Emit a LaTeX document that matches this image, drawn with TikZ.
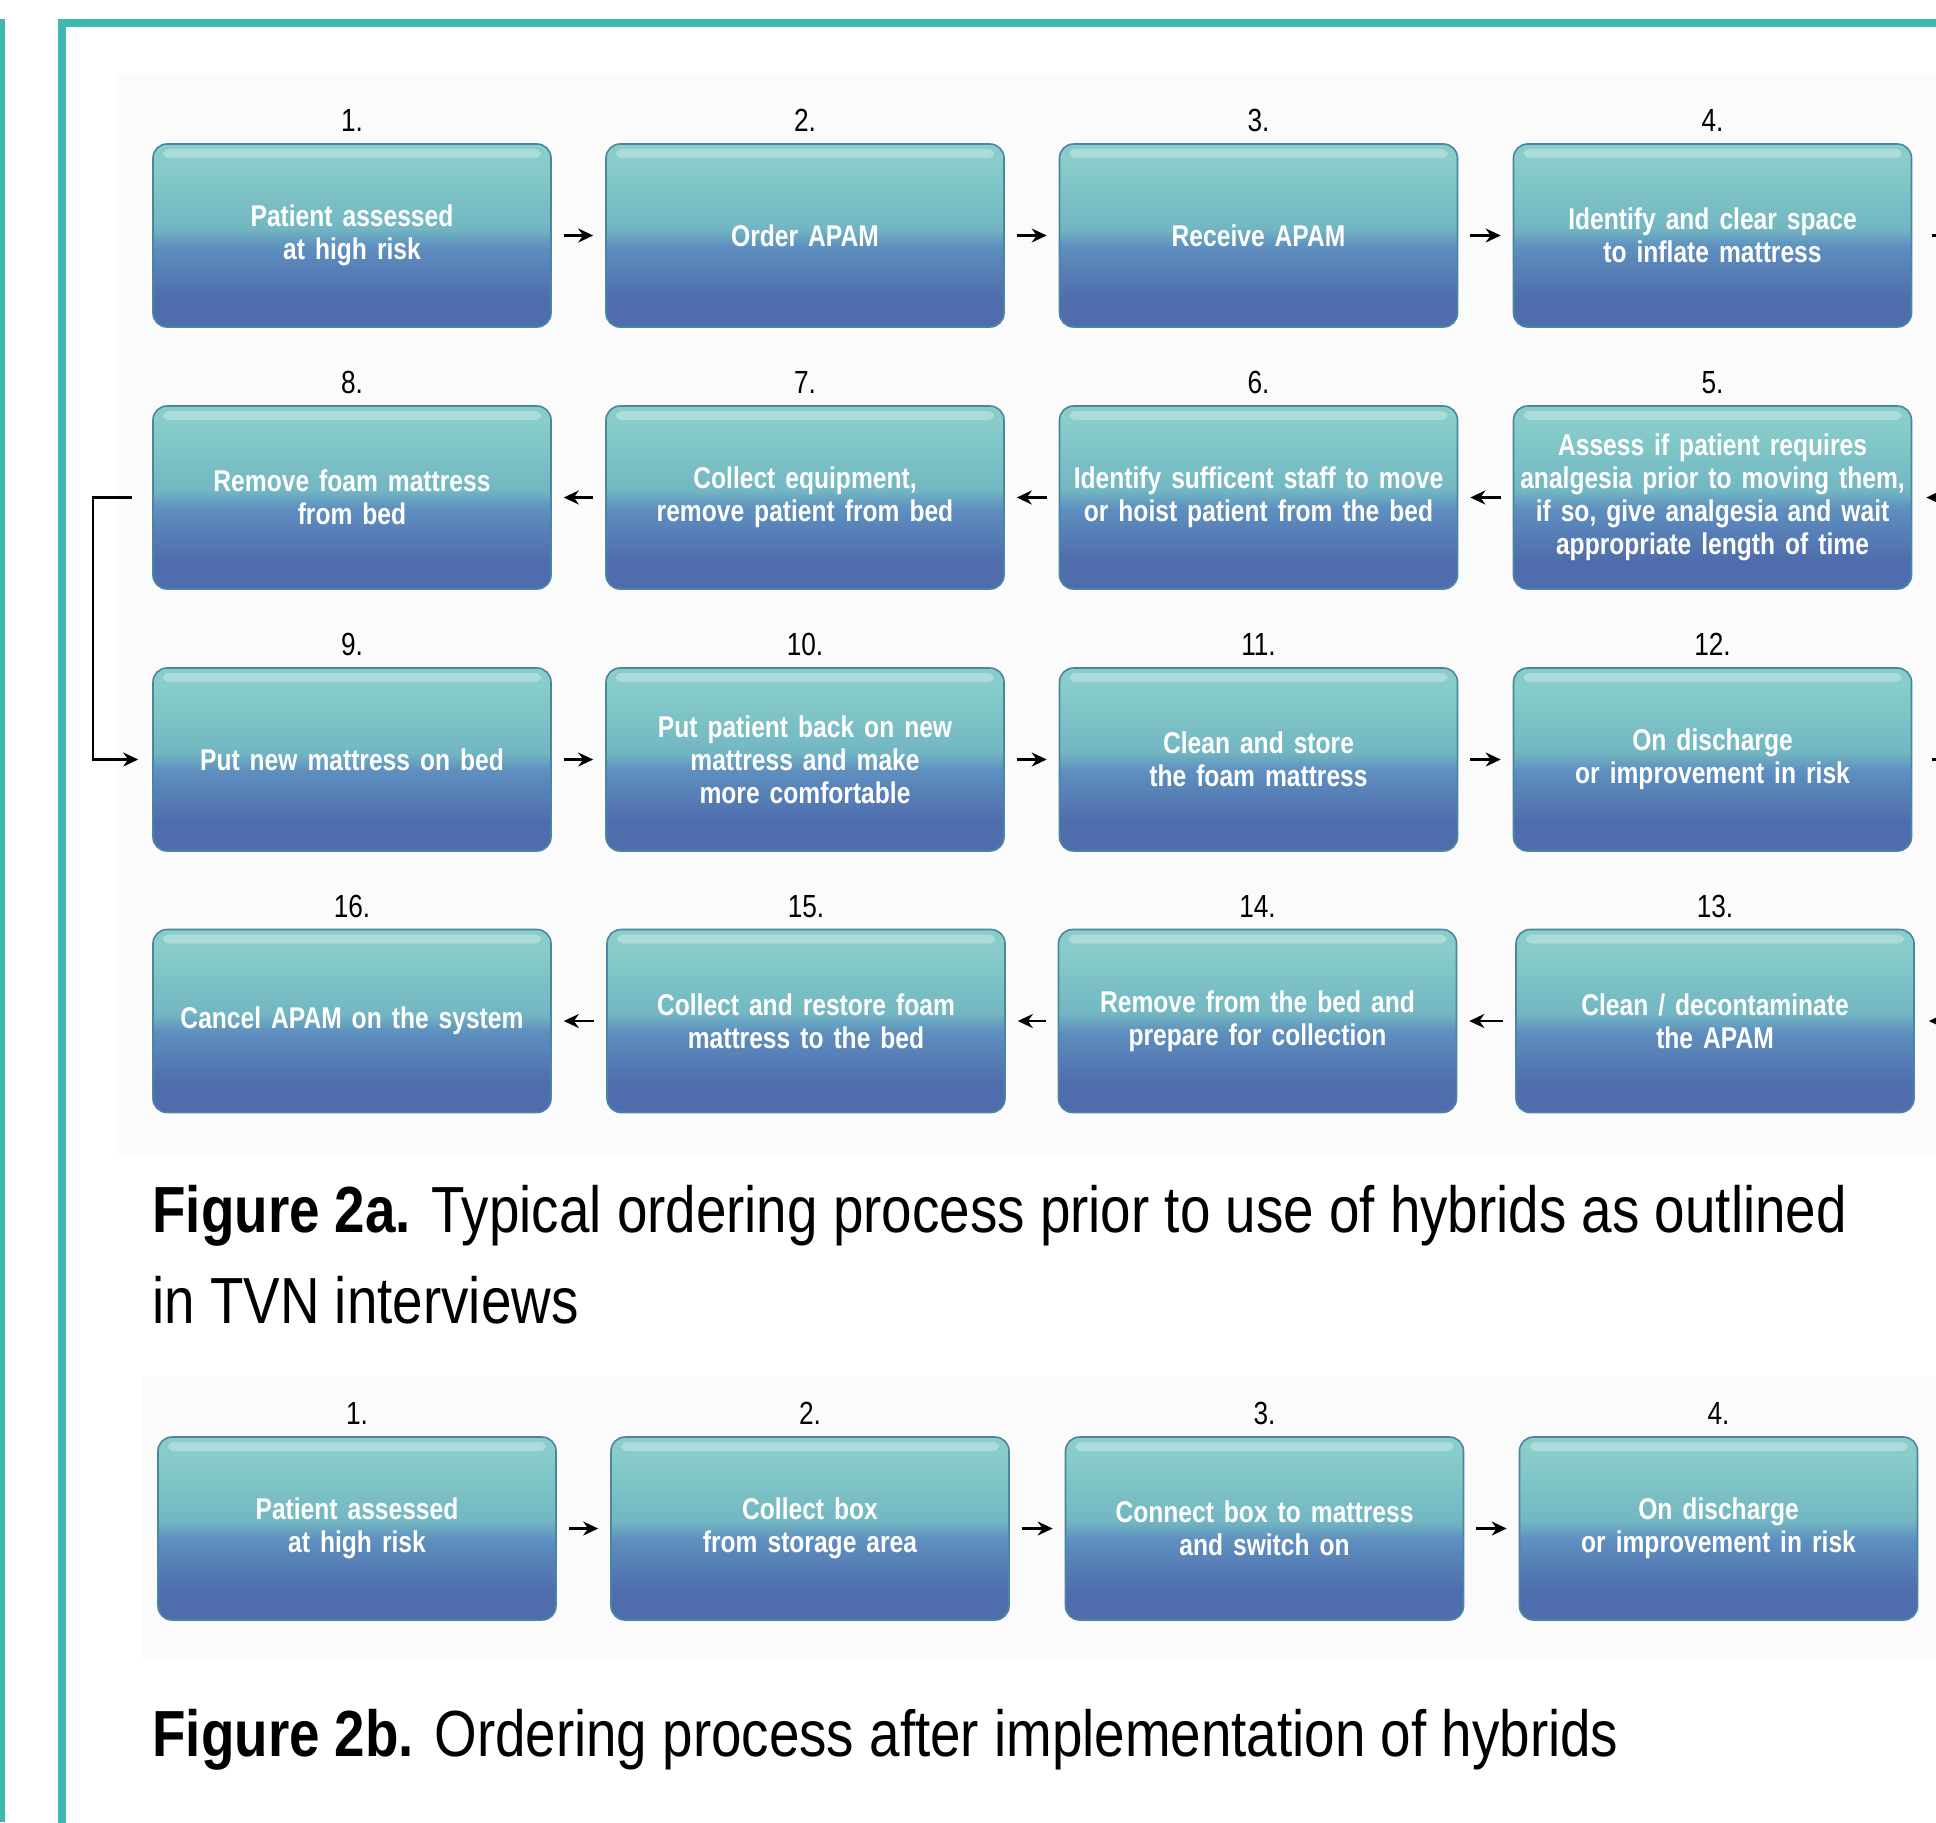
\documentclass[tikz,border=0pt]{standalone}
\usepackage{fontspec}
\setmainfont{Liberation Sans}[FakeStretch=0.82]
\newfontfamily\capfont{Liberation Sans}[FakeStretch=0.84]
\usetikzlibrary{positioning,arrows.meta}

\definecolor{frameteal}{HTML}{3FB8B0}
\definecolor{boxtop}{HTML}{88CDCA}
\definecolor{boxup}{HTML}{72B6C2}
\definecolor{boxmid}{HTML}{5E8FBF}
\definecolor{boxbot}{HTML}{4F6DAD}
\definecolor{boxedge}{HTML}{4A86A0}
\definecolor{panelgrey}{HTML}{FBFBFB}

\pgfdeclareverticalshading{glossy}{100bp}{color(0bp)=(boxbot); color(25bp)=(boxbot); color(33bp)=(boxbot); color(47bp)=(boxmid); color(52bp)=(boxup); color(70bp)=(boxtop); color(75bp)=(boxtop); color(100bp)=(boxtop)}

\tikzset{
  stepbox/.style={draw=boxedge, line width=0.8pt, rounded corners=7pt, shading=glossy,
    minimum width=199pt, minimum height=91.5pt, text width=196pt, align=center,
    inner sep=0pt, text=white, font=\bfseries\fontsize{15}{16.5}\selectfont,
    path picture={
      \fill[white, opacity=0.3, rounded corners=3pt]
        ([xshift=5pt,yshift=-2.5pt]path picture bounding box.north west) rectangle
        ([xshift=-5pt,yshift=-7pt]path picture bounding box.north east);
    }},
  num/.style={inner sep=0pt, font=\fontsize{16}{18}\selectfont},
  link/.style={-{Stealth[length=7.5pt,width=7pt]}, line width=1.2pt, shorten <=6pt, shorten >=6pt},
  figcap/.style={inner sep=0pt, align=left, font=\capfont\fontsize{32.6}{45.5}\selectfont}
}

\begin{document}
\begin{tikzpicture}[x=0.5pt, y=-0.5pt]
        \useasboundingbox (0,0) rectangle (1936,1822);
        
        % Panels and frame
        \fill[panelgrey] (117,74) rectangle (1936,1154);
        \fill[panelgrey] (142,1377) rectangle (1936,1660);
        \fill[frameteal] (0,19) rectangle (5,1822);
        \draw[frameteal, line width=4pt] (2000,23) -- (62,23) -- (62,1900);
        
        % Figure 2a, row 1
        \node[stepbox] (b1) at (352,235.5) {Patient assessed\\at high risk};
        \node[stepbox] (b2) at (805,235.5) {Order APAM};
        \node[stepbox] (b3) at (1258.5,235.5) {Receive APAM};
        \node[stepbox] (b4) at (1712.5,235.5) {Identify and clear space\\to inflate mattress};
        
        % Row 2
        \node[stepbox] (b8) at (352,497.5) {Remove foam mattress\\from bed};
        \node[stepbox] (b7) at (805,497.5) {Collect equipment,\\remove patient from bed};
        \node[stepbox] (b6) at (1258.5,497.5) {Identify sufficent staff to move\\or hoist patient from the bed};
        \node[stepbox] (b5) at (1712.5,497.5) {Assess if patient requires\\analgesia prior to moving them,\\if so, give analgesia and wait\\appropriate length of time};
        
        % Row 3
        \node[stepbox] (b9) at (352,759.5) {Put new mattress on bed};
        \node[stepbox] (b10) at (805,759.5) {Put patient back on new\\mattress and make\\more comfortable};
        \node[stepbox] (b11) at (1258.5,759.5) {Clean and store\\the foam mattress};
        \node[stepbox] (b12) at (1712.5,759.5) {On discharge\\or improvement in risk};
        
        % Row 4
        \node[stepbox] (b16) at (352,1021) {Cancel APAM on the system};
        \node[stepbox] (b15) at (806,1021) {Collect and restore foam\\mattress to the bed};
        \node[stepbox] (b14) at (1257.5,1021) {Remove from the bed and\\prepare for collection};
        \node[stepbox] (b13) at (1715,1021) {Clean / decontaminate\\the APAM};
        
        % Numbers
        \node[num, above=5.5pt of b1] (n1) {1.};
        \node[num, above=5.5pt of b2] (n2) {2.};
        \node[num, above=5.5pt of b3] (n3) {3.};
        \node[num, above=5.5pt of b4] (n4) {4.};
        \node[num, above=5.5pt of b5] (n5) {5.};
        \node[num, above=5.5pt of b6] (n6) {6.};
        \node[num, above=5.5pt of b7] (n7) {7.};
        \node[num, above=5.5pt of b8] (n8) {8.};
        \node[num, above=5.5pt of b9] (n9) {9.};
        \node[num, above=5.5pt of b10] (n10) {10.};
        \node[num, above=5.5pt of b11] (n11) {11.};
        \node[num, above=5.5pt of b12] (n12) {12.};
        \node[num, above=5.5pt of b13] (n13) {13.};
        \node[num, above=5.5pt of b14] (n14) {14.};
        \node[num, above=5.5pt of b15] (n15) {15.};
        \node[num, above=5.5pt of b16] (n16) {16.};
        
        % Arrows
        \draw[link] (b1) -- (b2);
        \draw[link] (b2) -- (b3);
        \draw[link] (b3) -- (b4);
        \draw[link, shorten <=10pt, shorten >=7pt] (b4.east) -- ++(30pt,0) |- (b5.east);
        \draw[link] (b5) -- (b6);
        \draw[link] (b6) -- (b7);
        \draw[link] (b7) -- (b8);
        \draw[link, shorten <=10pt, shorten >=7pt] (b8.west) -- ++(-29.5pt,0) |- (b9.west);
        \draw[link] (b9) -- (b10);
        \draw[link] (b10) -- (b11);
        \draw[link] (b11) -- (b12);
        \draw[link, shorten <=10pt, shorten >=7pt] (b12.east) -- ++(30pt,0) |- (b13.east);
        \draw[link] (b13) -- (b14);
        \draw[link] (b14) -- (b15);
        \draw[link] (b15) -- (b16);
        
        % Caption 2a
        \node[figcap, anchor=base west] (cap2a) at (152,1323) {\textbf{Figure 2a.} Typical ordering process prior to use of hybrids as outlined\\in TVN interviews};
        
        % Figure 2b
        \node[stepbox] (c1) at (357,1528.5) {Patient assessed\\at high risk};
        \node[stepbox] (c2) at (810,1528.5) {Collect box\\from storage area};
        \node[stepbox] (c3) at (1264.5,1528.5) {Connect box to mattress\\and switch on};
        \node[stepbox] (c4) at (1718.5,1528.5) {On discharge\\or improvement in risk};
        \node[num, above=5.5pt of c1] (m1) {1.};
        \node[num, above=5.5pt of c2] (m2) {2.};
        \node[num, above=5.5pt of c3] (m3) {3.};
        \node[num, above=5.5pt of c4] (m4) {4.};
        \draw[link] (c1) -- (c2);
        \draw[link] (c2) -- (c3);
        \draw[link] (c3) -- (c4);
        
        % Caption 2b
        \node[figcap, anchor=base west] (cap2b) at (152,1756) {\textbf{Figure 2b.} Ordering process after implementation of hybrids};
        
    \end{tikzpicture}
\end{document}
